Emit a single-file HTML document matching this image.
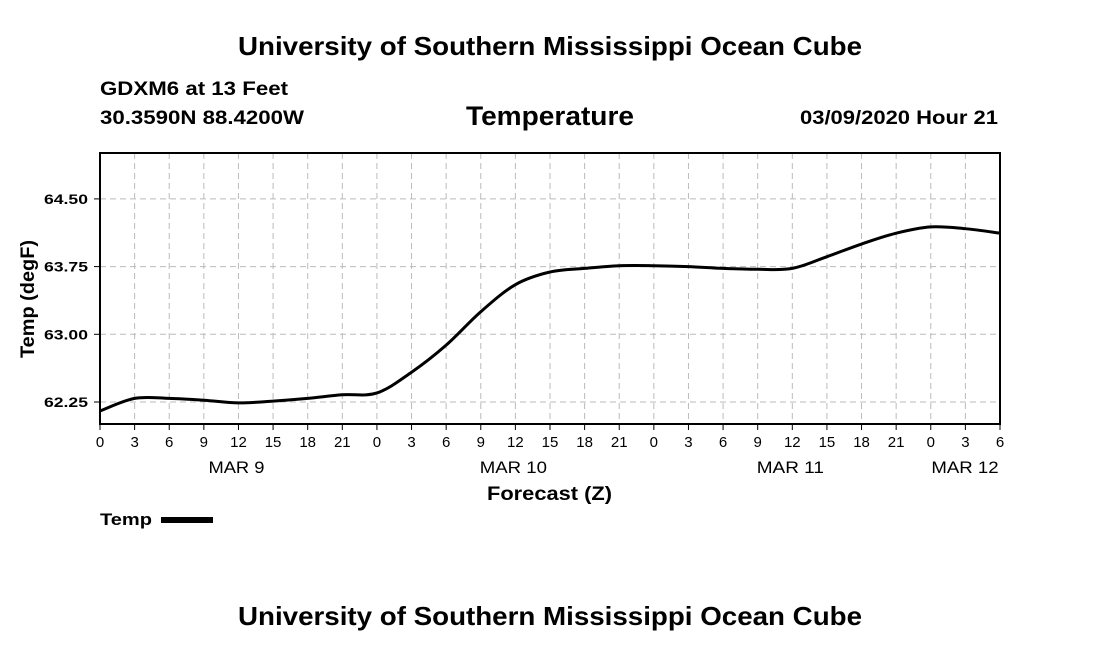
<!DOCTYPE html>
<html><head><meta charset="utf-8"><style>
body{margin:0;background:#fff;width:1100px;height:650px;overflow:hidden;font-family:"Liberation Sans",sans-serif}
</style></head><body>
<svg width="1100" height="650" xmlns="http://www.w3.org/2000/svg" font-family="Liberation Sans, sans-serif" font-weight="bold">
<text x="238" y="55" font-size="26" textLength="624" lengthAdjust="spacingAndGlyphs">University of Southern Mississippi Ocean Cube</text>
<text x="100" y="95" font-size="19" textLength="188" lengthAdjust="spacingAndGlyphs">GDXM6 at 13 Feet</text>
<text x="100" y="124" font-size="19" textLength="204" lengthAdjust="spacingAndGlyphs">30.3590N 88.4200W</text>
<text x="466" y="125" font-size="27" textLength="168" lengthAdjust="spacingAndGlyphs">Temperature</text>
<text x="800" y="124" font-size="19" textLength="198" lengthAdjust="spacingAndGlyphs">03/09/2020 Hour 21</text>
<g id="grid"></g>
<rect x="100" y="153" width="900" height="271" fill="none" stroke="#000" stroke-width="2"/>
<g id="axes"></g>
<path id="line" fill="none" stroke="#000" stroke-width="3"/>
<text transform="translate(34,358) rotate(-90)" font-size="19" textLength="118" lengthAdjust="spacingAndGlyphs">Temp (degF)</text>
<text x="487" y="500" font-size="19" textLength="125" lengthAdjust="spacingAndGlyphs">Forecast (Z)</text>
<text x="100" y="525" font-size="17" textLength="52" lengthAdjust="spacingAndGlyphs">Temp</text>
<rect x="161" y="517" width="52" height="6" fill="#000"/>
<text x="238" y="625" font-size="26" textLength="624" lengthAdjust="spacingAndGlyphs">University of Southern Mississippi Ocean Cube</text>
</svg>
<script>
const hours=[0,3,6,9,12,15,18,21,24,27,30,33,36,39,42,45,48,51,54,57,60,63,66,69,72,75,78];
const temps=[62.15,62.29,62.29,62.27,62.24,62.26,62.29,62.33,62.35,62.58,62.88,63.25,63.55,63.69,63.73,63.76,63.76,63.75,63.73,63.72,63.73,63.86,64.00,64.12,64.19,64.17,64.12];
const yTicks=[62.25,63.00,63.75,64.50];
const xTickLabels=["0","3","6","9","12","15","18","21","0","3","6","9","12","15","18","21","0","3","6","9","12","15","18","21","0","3","6"];
const dayLabels=[{h:12,t:"MAR 9"},{h:36,t:"MAR 10"},{h:60,t:"MAR 11"},{h:78,t:"MAR 12"}];
const X=h=>100+h*900/78;
const Y=v=>402-(v-62.25)/0.75*67.7;
const ns="http://www.w3.org/2000/svg";
const grid=document.getElementById('grid'),axes=document.getElementById('axes');
function mk(tag,attrs,parent,txt){const e=document.createElementNS(ns,tag);for(const k in attrs)e.setAttribute(k,attrs[k]);if(txt!==undefined)e.textContent=txt;parent.appendChild(e);return e;}
yTicks.forEach(v=>{
 const g=mk('line',{x1:100,x2:1000,y1:Y(v),y2:Y(v),stroke:'#bbb','stroke-dasharray':'6,4'},grid);
 
 
 const t=mk('text',{x:44,y:Y(v)+5,'font-size':14,textLength:44,lengthAdjust:'spacingAndGlyphs'},axes,v.toFixed(2));
 
 
 mk('line',{x1:94,x2:100,y1:Y(v),y2:Y(v),stroke:'#000','stroke-width':1},axes);
});
hours.forEach((h,i)=>{
 if(i>0&&i<hours.length-1){const g=mk('line',{x1:X(h),x2:X(h),y1:153,y2:424,stroke:'#bbb','stroke-dasharray':'6,4'},grid);
 
 }
 mk('line',{x1:X(h),x2:X(h),y1:424,y2:430,stroke:'#000'},axes);
 const t=mk('text',{x:X(h),y:447,'text-anchor':'middle','font-size':15,'font-weight':'normal'},axes,xTickLabels[i]);
 
 
});
dayLabels.forEach(d=>{
 const cx=d.h===78?X(d.h)-35:X(d.h)-2;
 const t=mk('text',{x:cx-d.t.length*5.6,y:473,'font-size':17,'font-weight':'normal',textLength:d.t.length*11.2,lengthAdjust:'spacingAndGlyphs'},axes,d.t);
 
 
});
const pts=hours.map((h,i)=>[X(h),Y(temps[i])]);
let d='M'+pts[0][0]+','+pts[0][1];
for(let i=0;i<pts.length-1;i++){
 const p0=pts[Math.max(0,i-1)],p1=pts[i],p2=pts[i+1],p3=pts[Math.min(pts.length-1,i+2)];
 d+=' C'+(p1[0]+(p2[0]-p0[0])/6)+','+(p1[1]+(p2[1]-p0[1])/6)+' '+(p2[0]-(p3[0]-p1[0])/6)+','+(p2[1]-(p3[1]-p1[1])/6)+' '+p2[0]+','+p2[1];
}
document.getElementById('line').setAttribute('d',d);
</script>
</body></html>
